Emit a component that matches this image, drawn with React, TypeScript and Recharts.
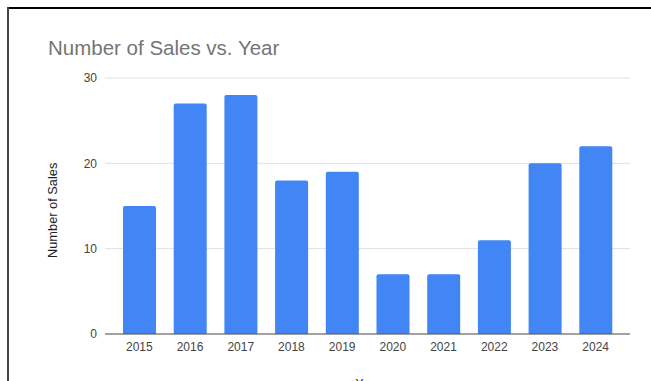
import { Bar, BarChart, CartesianGrid, XAxis, YAxis } from "recharts";

const years = ["2015", "2016", "2017", "2018", "2019", "2020", "2021", "2022", "2023", "2024"];
const sales = [15, 27, 28, 18, 19, 7, 7, 11, 20, 22];
const yTicks = [0, 10, 20, 30];

const data = years.map((year, i) => ({ year, sales: sales[i] }));

const font = "'Liberation Sans', Arial, sans-serif";

export default function App() {
  return (
    <div
      style={{
        position: "absolute",
        left: 0,
        top: 0,
        width: 651,
        height: 381,
        background: "#fff",
        overflow: "hidden",
        fontFamily: font,
      }}
    >
      <div style={{ position: "absolute", left: 7, top: 7, width: 644, height: 2, background: "#000" }} />
      <div style={{ position: "absolute", left: 7, top: 7, width: 2, height: 374, background: "#444" }} />
      <div
        style={{
          position: "absolute",
          left: 48,
          top: 38,
          fontSize: 20.5,
          lineHeight: "20px",
          color: "#757575",
          whiteSpace: "nowrap",
        }}
      >
        Number of Sales vs. Year
      </div>
      <BarChart
        width={651}
        height={381}
        data={data}
        margin={{ top: 78, right: 21, left: 65, bottom: 17 }}
        style={{ position: "absolute", left: 0, top: 0 }}
      >
        <CartesianGrid vertical={false} stroke="#e0e0e0" />
        <XAxis
          dataKey="year"
          height={30}
          padding={{ left: 9, right: 9 }}
          tickLine={false}
          axisLine={{ stroke: "#555" }}
          tick={{ fill: "#444", fontSize: 12, fontFamily: font }}
          label={{ value: "Year", position: "bottom", offset: 15, fill: "#222", fontSize: 12, fontFamily: font }}
        />
        <YAxis
          width={40}
          domain={[0, 30]}
          ticks={yTicks}
          tickLine={false}
          axisLine={false}
          tick={{ fill: "#444", fontSize: 12, fontFamily: font }}
          label={{
            value: "Number of Sales",
            angle: -90,
            position: "insideLeft",
            dx: -18,
            dy: 52,
            fill: "#222",
            fontSize: 12.8,
            fontFamily: font,
          }}
        />
        <Bar dataKey="sales" fill="#4285F4" barSize={33} radius={[2, 2, 0, 0]} isAnimationActive={false} />
      </BarChart>
    </div>
  );
}
